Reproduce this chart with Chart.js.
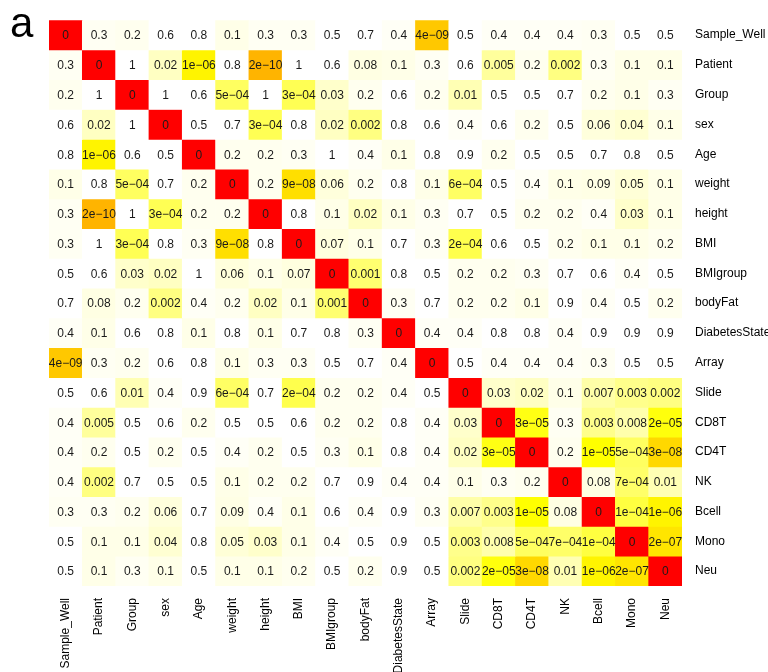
<!DOCTYPE html>
<html>
<head>
<meta charset="utf-8">
<script src="https://cdn.jsdelivr.net/npm/chart.js@4/dist/chart.umd.min.js"></script>
<style>
  html, body { margin: 0; padding: 0; background: #fff; }
  #wrap { width: 768px; height: 672px; position: relative; }
</style>
</head>
<body>
<div id="wrap"><canvas id="c"></canvas></div>
<script>
// Variable names (rows top to bottom, columns left to right)
const variables = ['Sample_Well', 'Patient', 'Group', 'sex', 'Age', 'weight', 'height', 'BMI',
  'BMIgroup', 'bodyFat', 'DiabetesState', 'Array', 'Slide', 'CD8T', 'CD4T', 'NK', 'Bcell', 'Mono', 'Neu'];

// Pairwise association p-values, one row per variable
const pSampleWell   = [0, 0.3, 0.2, 0.6, 0.8, 0.1, 0.3, 0.3, 0.5, 0.7, 0.4, 4e-9, 0.5, 0.4, 0.4, 0.4, 0.3, 0.5, 0.5];
const pPatient      = [0.3, 0, 1, 0.02, 1e-6, 0.8, 2e-10, 1, 0.6, 0.08, 0.1, 0.3, 0.6, 0.005, 0.2, 0.002, 0.3, 0.1, 0.1];
const pGroup        = [0.2, 1, 0, 1, 0.6, 5e-4, 1, 3e-4, 0.03, 0.2, 0.6, 0.2, 0.01, 0.5, 0.5, 0.7, 0.2, 0.1, 0.3];
const pSex          = [0.6, 0.02, 1, 0, 0.5, 0.7, 3e-4, 0.8, 0.02, 0.002, 0.8, 0.6, 0.4, 0.6, 0.2, 0.5, 0.06, 0.04, 0.1];
const pAge          = [0.8, 1e-6, 0.6, 0.5, 0, 0.2, 0.2, 0.3, 1, 0.4, 0.1, 0.8, 0.9, 0.2, 0.5, 0.5, 0.7, 0.8, 0.5];
const pWeight       = [0.1, 0.8, 5e-4, 0.7, 0.2, 0, 0.2, 9e-8, 0.06, 0.2, 0.8, 0.1, 6e-4, 0.5, 0.4, 0.1, 0.09, 0.05, 0.1];
const pHeight       = [0.3, 2e-10, 1, 3e-4, 0.2, 0.2, 0, 0.8, 0.1, 0.02, 0.1, 0.3, 0.7, 0.5, 0.2, 0.2, 0.4, 0.03, 0.1];
const pBMI          = [0.3, 1, 3e-4, 0.8, 0.3, 9e-8, 0.8, 0, 0.07, 0.1, 0.7, 0.3, 2e-4, 0.6, 0.5, 0.2, 0.1, 0.1, 0.2];
const pBMIgroup     = [0.5, 0.6, 0.03, 0.02, 1, 0.06, 0.1, 0.07, 0, 0.001, 0.8, 0.5, 0.2, 0.2, 0.3, 0.7, 0.6, 0.4, 0.5];
const pBodyFat      = [0.7, 0.08, 0.2, 0.002, 0.4, 0.2, 0.02, 0.1, 0.001, 0, 0.3, 0.7, 0.2, 0.2, 0.1, 0.9, 0.4, 0.5, 0.2];
const pDiabetes     = [0.4, 0.1, 0.6, 0.8, 0.1, 0.8, 0.1, 0.7, 0.8, 0.3, 0, 0.4, 0.4, 0.8, 0.8, 0.4, 0.9, 0.9, 0.9];
const pArray        = [4e-9, 0.3, 0.2, 0.6, 0.8, 0.1, 0.3, 0.3, 0.5, 0.7, 0.4, 0, 0.5, 0.4, 0.4, 0.4, 0.3, 0.5, 0.5];
const pSlide        = [0.5, 0.6, 0.01, 0.4, 0.9, 6e-4, 0.7, 2e-4, 0.2, 0.2, 0.4, 0.5, 0, 0.03, 0.02, 0.1, 0.007, 0.003, 0.002];
const pCD8T         = [0.4, 0.005, 0.5, 0.6, 0.2, 0.5, 0.5, 0.6, 0.2, 0.2, 0.8, 0.4, 0.03, 0, 3e-5, 0.3, 0.003, 0.008, 2e-5];
const pCD4T         = [0.4, 0.2, 0.5, 0.2, 0.5, 0.4, 0.2, 0.5, 0.3, 0.1, 0.8, 0.4, 0.02, 3e-5, 0, 0.2, 1e-5, 5e-4, 3e-8];
const pNK           = [0.4, 0.002, 0.7, 0.5, 0.5, 0.1, 0.2, 0.2, 0.7, 0.9, 0.4, 0.4, 0.1, 0.3, 0.2, 0, 0.08, 7e-4, 0.01];
const pBcell        = [0.3, 0.3, 0.2, 0.06, 0.7, 0.09, 0.4, 0.1, 0.6, 0.4, 0.9, 0.3, 0.007, 0.003, 1e-5, 0.08, 0, 1e-4, 1e-6];
const pMono         = [0.5, 0.1, 0.1, 0.04, 0.8, 0.05, 0.03, 0.1, 0.4, 0.5, 0.9, 0.5, 0.003, 0.008, 5e-4, 7e-4, 1e-4, 0, 2e-7];
const pNeu          = [0.5, 0.1, 0.3, 0.1, 0.5, 0.1, 0.1, 0.2, 0.5, 0.2, 0.9, 0.5, 0.002, 2e-5, 3e-8, 0.01, 1e-6, 2e-7, 0];

const rows = [pSampleWell, pPatient, pGroup, pSex, pAge, pWeight, pHeight, pBMI, pBMIgroup, pBodyFat,
  pDiabetes, pArray, pSlide, pCD8T, pCD4T, pNK, pBcell, pMono, pNeu];

// Heat scale on -log10(p): white -> pale yellow -> yellow -> orange, zero drawn red
const ramp = [
  [0.33, 255, 255, 255], [0.40, 255, 255, 246], [1.0, 255, 255, 232], [1.5, 255, 255, 204],
  [2.0, 255, 255, 180], [2.5, 255, 255, 140], [3.0, 255, 255, 112], [3.5, 255, 255, 85],
  [4.0, 255, 255, 64], [4.5, 255, 255, 20], [5.0, 255, 255, 0], [6.0, 255, 244, 0],
  [6.7, 255, 229, 0], [7.5, 255, 216, 0], [8.4, 255, 200, 0], [9.7, 255, 180, 0]
];
function heatColor(p) {
  if (p === 0) return 'rgb(255,0,0)';
  const x = -Math.log10(p);
  if (x <= ramp[0][0]) return 'rgb(255,255,255)';
  for (let k = 1; k < ramp.length; k++) {
    if (x <= ramp[k][0]) {
      const a = ramp[k - 1], b = ramp[k];
      const t = (x - a[0]) / (b[0] - a[0]);
      const c = [1, 2, 3].map(i => Math.round(a[i] + (b[i] - a[i]) * t));
      return `rgb(${c[0]},${c[1]},${c[2]})`;
    }
  }
  const last = ramp[ramp.length - 1];
  return `rgb(${last[1]},${last[2]},${last[3]})`;
}

// p-value text: decimals down to 0.001, scientific notation below that
function formatP(p) {
  if (p === 0) return '0';
  if (p >= 0.001) return String(p);
  const [m, e] = p.toExponential(0).split('e');
  const exp = Math.abs(parseInt(e, 10));
  return m + 'e\u2212' + String(exp).padStart(2, '0');
}

const FONT = "'Liberation Sans', Arial, Helvetica, sans-serif";

// One floating-bar dataset per row; each bar spans [row, row + 1]
const datasets = rows.map((vals, r) => ({
  label: variables[r],
  data: vals.map(() => [r, r + 1]),
  backgroundColor: vals.map(heatColor),
  borderWidth: 0,
  barPercentage: 1,
  categoryPercentage: 1,
  grouped: false
}));

const cellText = {
  id: 'cellText',
  afterDatasetsDraw(chart) {
    const { ctx, scales: { x, y } } = chart;
    ctx.save();
    ctx.font = `12px ${FONT}`;
    ctx.fillStyle = '#1a1a1a';
    ctx.textAlign = 'center';
    ctx.textBaseline = 'middle';
    rows.forEach((vals, r) => {
      vals.forEach((p, c) => {
        ctx.fillText(formatP(p), x.getPixelForValue(c), y.getPixelForValue(r + 0.5) + 1);
      });
    });
    ctx.restore();
  }
};

const panelLetter = {
  id: 'panelLetter',
  afterDraw(chart) {
    const { ctx } = chart;
    ctx.save();
    ctx.font = `42px ${FONT}`;
    ctx.fillStyle = '#000';
    ctx.textAlign = 'left';
    ctx.textBaseline = 'alphabetic';
    ctx.fillText('a', 10, 37);
    ctx.restore();
  }
};

new Chart(document.getElementById('c'), {
  type: 'bar',
  data: { labels: variables, datasets },
  options: {
    responsive: true,
    maintainAspectRatio: false,
    animation: false,
    layout: { padding: { left: 49, top: 13, right: 0, bottom: 0 } },
    plugins: { legend: { display: false }, tooltip: { enabled: false }, title: { display: false } },
    scales: {
      x: {
        type: 'category',
        position: 'bottom',
        grid: { display: false, drawTicks: false },
        border: { display: false },
        ticks: {
          autoSkip: false, minRotation: 90, maxRotation: 90, padding: 12,
          color: '#000', font: { family: FONT, size: 12 }
        },
        afterFit(s) { s.height = 86; }
      },
      y: {
        type: 'linear',
        position: 'right',
        min: 0, max: variables.length,
        reverse: true,
        grid: { display: false, drawTicks: false },
        border: { display: false },
        afterBuildTicks(s) { s.ticks = variables.map((_, i) => ({ value: i + 0.5 })); },
        ticks: {
          autoSkip: false, padding: 13, color: '#000',
          font: { family: FONT, size: 12 },
          callback: v => variables[Math.floor(v)]
        },
        afterFit(s) { s.width = 86; }
      }
    }
  },
  plugins: [cellText, panelLetter]
});
</script>
</body>
</html>
